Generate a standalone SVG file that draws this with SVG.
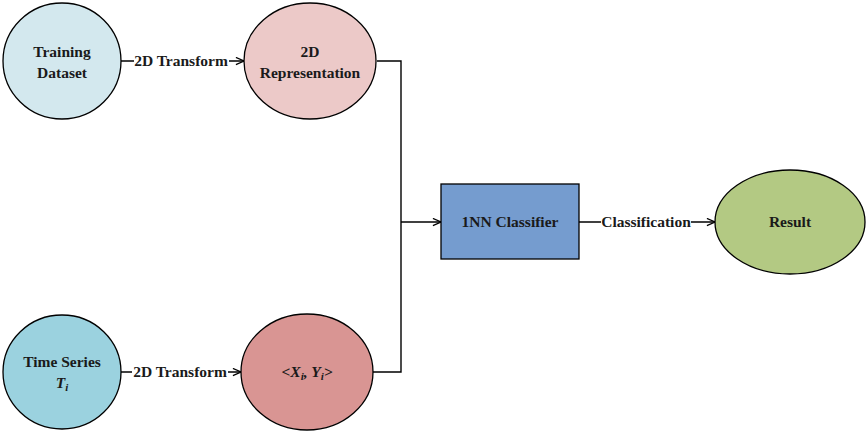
<svg xmlns="http://www.w3.org/2000/svg" width="867" height="431" viewBox="0 0 867 431">
<defs>
<marker id="arr" viewBox="0 0 10 10" refX="10" refY="5" markerWidth="9" markerHeight="9" markerUnits="userSpaceOnUse" orient="auto">
<path d="M1,1 L10,5 L1,9" fill="none" stroke="#000" stroke-width="1.4"/>
</marker>
<style>
.n{stroke:#000;stroke-width:1.3}
.t{font-family:"Liberation Serif","Times New Roman",serif;font-weight:bold;font-size:15.5px;fill:#1a1a1a;text-anchor:middle}
.c{fill:none;stroke:#000;stroke-width:1.4}
.lb{fill:#fff}
</style>
</defs>
<g id="connectors">
<line class="c" x1="121" y1="61" x2="244" y2="61" marker-end="url(#arr)"/>
<line class="c" x1="121" y1="372" x2="241" y2="372" marker-end="url(#arr)"/>
<polyline class="c" points="377,61 401,61 401,372 373,372"/>
<line class="c" x1="401" y1="222" x2="441" y2="222" marker-end="url(#arr)"/>
<line class="c" x1="579" y1="222" x2="715" y2="222" marker-end="url(#arr)"/>
<rect class="lb" x="134" y="52" width="95" height="18"/>
<text class="t" x="181" y="66">2D Transform</text>
<rect class="lb" x="132" y="363" width="96" height="18"/>
<text class="t" x="180" y="377">2D Transform</text>
<rect class="lb" x="601" y="213" width="90" height="18"/>
<text class="t" x="646" y="227">Classification</text>
</g>
<g id="training">
<ellipse class="n" cx="62" cy="61" rx="59" ry="58" fill="#d3e8ee"/>
<text class="t" x="62" y="57">Training</text>
<text class="t" x="62" y="78">Dataset</text>
</g>
<g id="rep2d">
<ellipse class="n" cx="310" cy="61" rx="66" ry="58" fill="#ecc9c8"/>
<text class="t" x="310" y="57">2D</text>
<text class="t" x="310" y="78">Representation</text>
</g>
<g id="timeseries">
<ellipse class="n" cx="62" cy="372" rx="59" ry="57" fill="#9bd2df"/>
<text class="t" x="62" y="367">Time Series</text>
<text class="t" x="62" y="388" font-style="italic">T<tspan font-size="11" dy="3">i</tspan></text>
</g>
<g id="xy">
<ellipse class="n" cx="307" cy="372" rx="66" ry="58" fill="#d99593"/>
<text class="t" x="307" y="377" font-style="italic">&lt;X<tspan font-size="11" dy="3">i</tspan><tspan dy="-3">, Y</tspan><tspan font-size="11" dy="3">i</tspan><tspan dy="-3">&gt;</tspan></text>
</g>
<g id="classifier">
<rect class="n" x="441" y="184" width="138" height="75" fill="#759ccf" stroke-width="1"/>
<text class="t" x="510" y="227">1NN Classifier</text>
</g>
<g id="result">
<ellipse class="n" cx="790" cy="222" rx="75" ry="52" fill="#b3c983"/>
<text class="t" x="790" y="227">Result</text>
</g>
</svg>
